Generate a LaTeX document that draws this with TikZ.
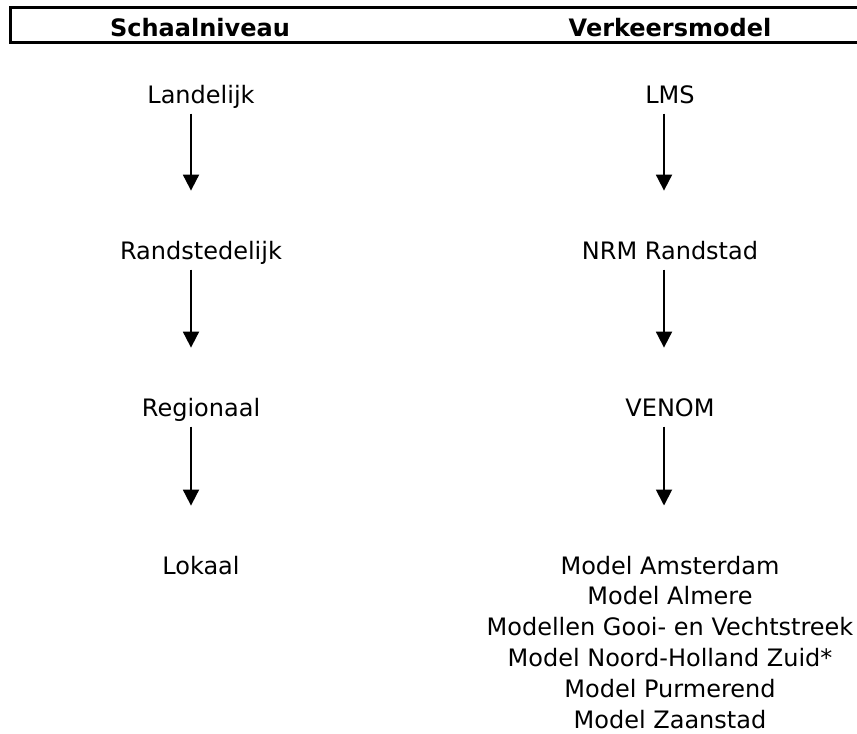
\documentclass[tikz,border=0pt]{standalone}
\usepackage{fontspec}
\setmainfont{DejaVu Sans}
\usepackage{xcolor}
\usetikzlibrary{arrows.meta,positioning}
\definecolor{Ink}{HTML}{000000}
\tikzset{
  levelarrow/.style={-{Triangle[length=12pt,width=12pt]}, line width=1.4pt, draw=Ink, shorten <=4pt, shorten >=37.5pt},
  rowlabel/.style={anchor=base, inner sep=0pt, text height=13.6pt, text depth=3.75pt, font=\fontsize{18pt}{23.5pt}\selectfont, text=Ink},
  headlabel/.style={anchor=base, inner sep=0pt, font=\fontsize{18pt}{23.5pt}\selectfont\bfseries, text=Ink},
  modellist/.style={anchor=north, inner sep=0pt, align=center, font=\fontsize{18pt}{23.1pt}\selectfont, text=Ink},
}

\begin{document}
\begin{tikzpicture}[x=0.75pt,y=-0.75pt]
\path[use as bounding box] (0,0) rectangle (857,733);
\fill[white] (0,0) rectangle (857,733);

% header band
\draw[Ink,line width=2.25pt,line join=miter] (857,7.5) -- (10,7.5) -- (10,42.5) -- (857,42.5);
\node[headlabel] (hscale) at (200,36) {Schaalniveau};
\node[headlabel] (hmodel) at (670,36) {Verkeersmodel};

% left column: schaalniveau
\node[rowlabel] (land) at (201,103) {Landelijk};
\node[rowlabel] (rand) at (201,259) {Randstedelijk};
\node[rowlabel] (reg)  at (201,416) {Regionaal};
\node[rowlabel] (lok)  at (201,574) {Lokaal};

% right column: verkeersmodel
\node[rowlabel] (lms)   at (670,103) {LMS};
\node[rowlabel] (nrm)   at (670,259) {NRM Randstad};
\node[rowlabel] (venom) at (670,416) {VENOM};
\node[modellist] (mods) at (670,555.5) {Model Amsterdam\\Model Almere\\Modellen Gooi- en Vechtstreek\\Model Noord-Holland Zuid*\\Model Purmerend\\Model Zaanstad};

% arrows
\draw[levelarrow] ([xshift=-7.5pt]land.south) -- ([xshift=-7.5pt]rand.north);
\draw[levelarrow] ([xshift=-7.5pt]rand.south) -- ([xshift=-7.5pt]reg.north);
\draw[levelarrow] ([xshift=-7.5pt]reg.south) -- ([xshift=-7.5pt]lok.north);
\draw[levelarrow] ([xshift=-4.5pt]lms.south) -- ([xshift=-4.5pt]nrm.north);
\draw[levelarrow] ([xshift=-4.5pt]nrm.south) -- ([xshift=-4.5pt]venom.north);
\draw[levelarrow] ([xshift=-4.5pt]venom.south) -- ([xshift=-4.5pt]mods.north);
\end{tikzpicture}
\end{document}
